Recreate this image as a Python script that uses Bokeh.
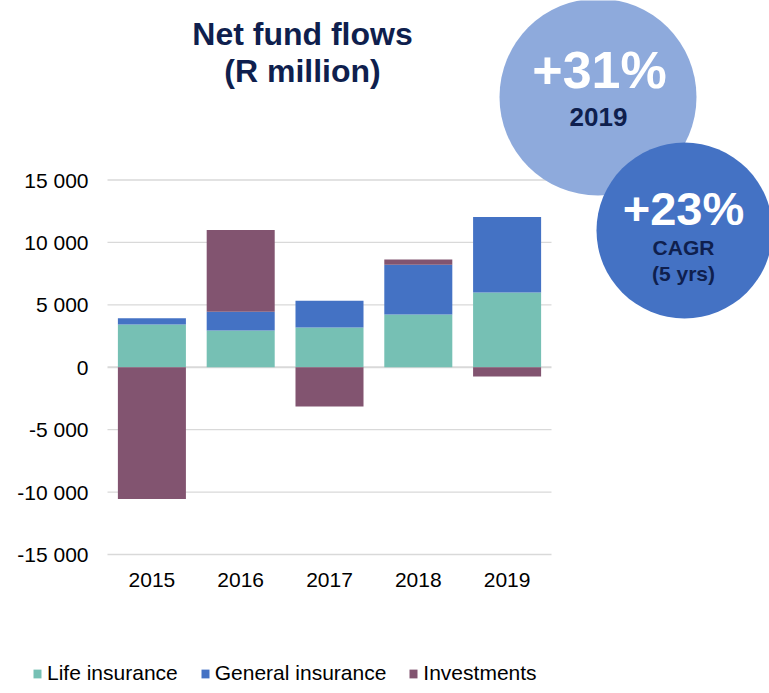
import numpy as np
from bokeh.plotting import figure
from bokeh.models import Range1d, FixedTicker, Legend, LegendItem
from bokeh.core.properties import value
from bokeh.embed import file_html
from bokeh.resources import INLINE

# ---------------- data ----------------
years = ["2015", "2016", "2017", "2018", "2019"]
life_insurance = [3420, 2940, 3180, 4230, 5990]
general_insurance = [510, 1500, 2140, 3980, 6040]
investments = [-10550, 6550, -3150, 430, -750]

y_ticks = [-15000, -10000, -5000, 0, 5000, 10000, 15000]
y_tick_labels = ["-15 000", "-10 000", "-5 000", "0", "5 000", "10 000", "15 000"]

title_lines = ["Net fund flows", "(R million)"]
badge_2019 = ["+31%", "2019"]
badge_cagr = ["+23%", "CAGR", "(5 yrs)"]

# ---------------- styles ----------------
C_LIFE = "#76C0B4"
C_GEN = "#4472C4"
C_INV = "#825470"
C_LIGHT = "#8EAADC"
C_NAVY = "#0F1F4E"
GRID = "#D9D9D9"
FONT = "Liberation Sans"

W, H = 769, 693
GRID_LEFT = 107          # px where the category area starts
GRID_BOTTOM = 554        # px of the -15 000 gridline
PX_PER_CAT = 88.8
Y_PER_PX = 30000 / 374.5

x_start = -0.5 - GRID_LEFT / PX_PER_CAT
x_end = x_start + W / PX_PER_CAT
y_start = -15000 - (H - GRID_BOTTOM) * Y_PER_PX
y_end = -15000 + GRID_BOTTOM * Y_PER_PX

def to_data(px_x, px_y):
    """convert a pixel position into data coords (decorations only)"""
    return (x_start + px_x / PX_PER_CAT, y_end - px_y * Y_PER_PX)

p = figure(width=W, height=H, output_backend="svg", toolbar_location=None,
           x_range=Range1d(x_start, x_end), y_range=Range1d(y_start, y_end),
           min_border=0)
p.outline_line_color = None
p.background_fill_color = "white"
p.border_fill_color = "white"
p.xgrid.visible = False
p.ygrid.visible = False

n = len(years)
# gridlines
p.segment(x0=[-0.5] * len(y_ticks), x1=[n - 0.5] * len(y_ticks), y0=y_ticks, y1=y_ticks,
          line_color=GRID, line_width=[2 if t == 0 else 1.3 for t in y_ticks])

# stacked bars
xs = np.arange(n)
life = np.array(life_insurance, dtype=float)
gen = np.array(general_insurance, dtype=float)
inv = np.array(investments, dtype=float)
pos_top = life + gen
inv_bottom = np.where(inv >= 0, pos_top, 0)
inv_top = np.where(inv >= 0, pos_top + inv, inv)

bw = 0.766
r_life = p.vbar(x=xs, width=bw, bottom=0, top=life, fill_color=C_LIFE, line_color=None)
r_gen = p.vbar(x=xs, width=bw, bottom=life, top=pos_top, fill_color=C_GEN, line_color=None)
r_inv = p.vbar(x=xs, width=bw, bottom=inv_bottom, top=inv_top, fill_color=C_INV, line_color=None)

# axes (drawn inside the full-canvas frame at fixed positions)
p.yaxis.fixed_location = -0.5
p.xaxis.fixed_location = y_ticks[0]
p.yaxis.ticker = FixedTicker(ticks=y_ticks)
p.yaxis.major_label_overrides = {t: l for t, l in zip(y_ticks, y_tick_labels)}
p.xaxis.ticker = FixedTicker(ticks=list(xs))
p.xaxis.major_label_overrides = {int(i): y for i, y in zip(xs, years)}
for ax in (p.xaxis, p.yaxis):
    ax.axis_line_color = None
    ax.major_tick_line_color = None
    ax.minor_tick_line_color = None
    ax.major_label_text_font = FONT
    ax.major_label_text_font_size = "21px"
    ax.major_label_text_color = "#000000"
p.yaxis.major_label_standoff = 13
p.xaxis.major_label_standoff = 12

def label(px_x, px_y, txt, size, color):
    x, y = to_data(px_x, px_y)
    p.text(x=[x], y=[y], text=[txt], text_font=value(FONT), text_font_style="bold",
           text_font_size=size, text_color=color, text_align="center",
           text_baseline="middle")

# badges
c1x, c1y = to_data(597.5, 96.5)
c2x, c2y = to_data(684, 230)
p.scatter(x=[c1x], y=[c1y], size=197, marker="circle", fill_color=C_LIGHT, line_color=None)
p.scatter(x=[c2x], y=[c2y], size=176, marker="circle", fill_color=C_GEN, line_color=None)

# title
label(302, 33, title_lines[0], "32px", C_NAVY)
label(302, 70, title_lines[1], "32px", C_NAVY)

label(599, 69, badge_2019[0], "52px", "white")
label(598, 116, badge_2019[1], "26px", C_NAVY)
label(683, 208, badge_cagr[0], "47px", "white")
label(683, 247, badge_cagr[1], "21px", C_NAVY)
label(683, 273, badge_cagr[2], "21px", C_NAVY)

# legend
legend = Legend(items=[LegendItem(label="Life insurance", renderers=[r_life]),
                       LegendItem(label="General insurance", renderers=[r_gen]),
                       LegendItem(label="Investments", renderers=[r_inv])],
                orientation="horizontal", location=(32, 8))
legend.glyph_width = 10
legend.glyph_height = 11
legend.label_standoff = 5
legend.spacing = 22
legend.padding = 0
legend.margin = 0
legend.border_line_color = None
legend.background_fill_alpha = 0
legend.label_text_font = FONT
legend.label_text_font_size = "21px"
legend.label_text_color = "#000000"
p.add_layout(legend)

open("out.html", "w").write(file_html(p, INLINE))
